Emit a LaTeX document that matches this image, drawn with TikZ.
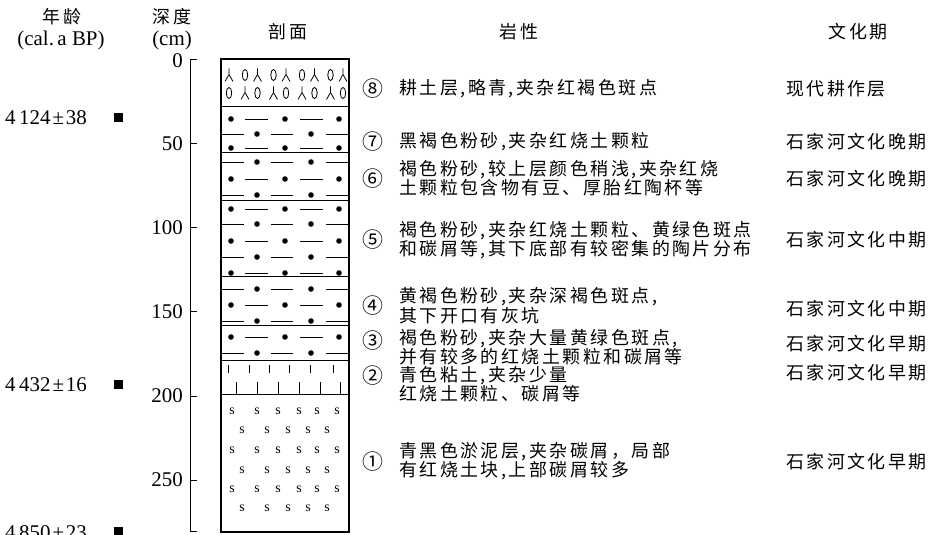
\documentclass[tikz,border=0pt]{standalone}
\usepackage{fontspec}
\setmainfont{Liberation Serif}
\newfontfamily\cjk[LetterSpace=14]{Noto Sans CJK SC}
\newfontfamily\cjkplain{Noto Sans CJK SC}
% silt pattern: row starting with a dot / row starting with a dash
\newcommand\siltA[1]{%
  \foreach \xx in {231,285,339}{\fill (\xx,#1) circle (2.8);}%
  \foreach \xx in {245,300}{\draw[dashln] (\xx,#1) -- ++(23,0);}}
\newcommand\siltB[1]{%
  \foreach \xx in {257,311}{\fill (\xx,#1) circle (2.8);}%
  \foreach \xx in {222,271,326}{\draw[dashln] (\xx,#1) -- ++(22,0);}}
% plough-soil symbols
\newcommand\ysym[2]{\draw[sym] (#1,#2-6.5) -- (#1,#2-0.5) (#1-4,#2+6.5) -- (#1,#2-0.5) -- (#1+4,#2+6.5);}
\newcommand\osym[2]{\draw[sym] (#1,#2) ellipse (2.7 and 5.6);}
\begin{document}
\begin{tikzpicture}[x=1bp,y=-1bp,
  cn/.style={font=\cjk\fontsize{18}{17.5}\selectfont, inner sep=0pt, align=left},
  cnum/.style={font=\cjkplain\fontsize{21}{21}\selectfont, inner sep=0pt},
  lat/.style={font=\fontsize{21}{22}\selectfont, inner sep=0pt},
  dashln/.style={line width=0.8bp},
  sym/.style={line width=0.8bp},
  bnd/.style={line width=1bp},
  tick/.style={line width=1bp},
  marker/.style={fill=black, draw=none, minimum size=9bp, inner sep=0pt, rectangle},
  ess/.style={font=\fontsize{14}{14}\selectfont, inner sep=0pt}
]
\useasboundingbox (0,0) rectangle (930,535);

% ---------- column headings ----------
\node[cn] (hAge) at (62,17) {年龄};
\node[lat] (hAgeU) at (61,40) {(cal.\,a BP)};
\node[cn] (hDep) at (172,17) {深度};
\node[lat] (hDepU) at (172,40) {(cm)};
\node[cn] (hSec) at (288,32) {剖面};
\node[cn] (hLith) at (519,32) {岩性};
\node[cn] (hCult) at (858,32) {文化期};

% ---------- ages ----------
\node[lat, anchor=west] (age1) at (5,118) {4\,124\kern2pt±\kern2pt38};
\node[marker] (m1) at (118,118) {};
\node[lat, anchor=west] (age2) at (5,385) {4\,432\kern2pt±\kern2pt16};
\node[marker] (m2) at (118,384) {};
\node[lat, anchor=west] (age3) at (5,533) {4\,850\kern2pt±\kern2pt23};
\node[marker] (m3) at (118,531) {};

% ---------- depth axis ----------
\coordinate (axTop) at (190,60);
\coordinate (axBot) at (190,531);
\draw[tick] (197,60) -- (axTop) -- (axBot) -- (197,531);
\foreach \d/\yy in {50/144,100/228,150/312,200/396,250/480}{
  \draw[tick] (190,\yy) -- (197,\yy);
  \node[lat, anchor=east] (dl\d) at (183,\yy) {\d};
}
\node[lat, anchor=east] (dl0) at (183,61) {0};

% ---------- section column ----------
\draw[line width=1.2bp] (221,59) rectangle (349,532);
\foreach \yy in {107,153,201,277,326,360,394}{
  \draw[bnd] (221,\yy) -- (349,\yy);
}
% layer 8: plough soil
\foreach \xx [count=\i] in {229,245,257.5,273.5,286,302,314.5,330.5,343}{
  \ifodd\i
    \ysym{\xx}{75}\osym{\xx}{93}
  \else
    \osym{\xx}{75}\ysym{\xx}{93}
  \fi
}
% layers 7-3: silt
\siltA{119}\siltB{134}\siltA{148}
\siltB{162}\siltA{179}\siltB{195}
\siltA{209}\siltB{224}\siltA{241}\siltB{257}\siltA{273}
\siltB{289}\siltA{305}\siltB{321}
\siltA{337}\siltB{353}
% layer 2: clay
\foreach \xx in {228,249,269,289,310,333}{\draw[sym] (\xx,365) -- (\xx,373);}
\foreach \xx in {236,257,278,299,320,340}{\draw[sym] (\xx,382) -- (\xx,394);}
% layer 1: mud
\foreach \yy in {411,450,489}{
  \foreach \xx in {232,257,278,299,317,337}{\node[ess] at (\xx,\yy) {s};}
}
\foreach \yy in {430,470,508}{
  \foreach \xx in {242,267,288,308,327}{\node[ess] at (\xx,\yy) {s};}
}

% ---------- lithology ----------
\node[cnum] (n8) at (373,89) {⑧};
\node[cn, anchor=west] (t8) at (399,89) {耕土层,略青,夹杂红褐色斑点};
\node[cnum] (n7) at (373,142) {⑦};
\node[cn, anchor=west] (t7) at (399,142) {黑褐色粉砂,夹杂红烧土颗粒};
\node[cnum] (n6) at (373,179) {⑥};
\node[cn, anchor=west] (t6) at (399,178) {褐色粉砂,较上层颜色稍浅,夹杂红烧\\土颗粒包含物有豆、厚胎红陶杯等};
\node[cnum] (n5) at (373,240) {⑤};
\node[cn, anchor=west] (t5) at (399,240) {褐色粉砂,夹杂红烧土颗粒、黄绿色斑点\\和碳屑等,其下底部有较密集的陶片分布};
\node[cnum] (n4) at (373,306) {④};
\node[cn, anchor=west] (t4) at (399,306) {黄褐色粉砂,夹杂深褐色斑点,\\其下开口有灰坑};
\node[cnum] (n3) at (373,341) {③};
\node[cn, anchor=west] (t3) at (399,347) {褐色粉砂,夹杂大量黄绿色斑点,\\并有较多的红烧土颗粒和碳屑等};
\node[cnum] (n2) at (373,376) {②};
\node[cn, anchor=west] (t2) at (399,384) {青色粘土,夹杂少量\\红烧土颗粒、碳屑等};
\node[cnum] (n1) at (373,462) {①};
\node[cn, anchor=west] (t1) at (399,461) {青黑色淤泥层,夹杂碳屑，局部\\有红烧土块,上部碳屑较多};

% ---------- culture periods ----------
\node[cn, anchor=west] (c8) at (786,89) {现代耕作层};
\node[cn, anchor=west] (c7) at (786,142) {石家河文化晚期};
\node[cn, anchor=west] (c6) at (786,179) {石家河文化晚期};
\node[cn, anchor=west] (c5) at (786,240) {石家河文化中期};
\node[cn, anchor=west] (c4) at (786,309) {石家河文化中期};
\node[cn, anchor=west] (c3) at (786,344) {石家河文化早期};
\node[cn, anchor=west] (c2) at (786,373) {石家河文化早期};
\node[cn, anchor=west] (c1) at (786,462) {石家河文化早期};
\end{tikzpicture}
\end{document}
